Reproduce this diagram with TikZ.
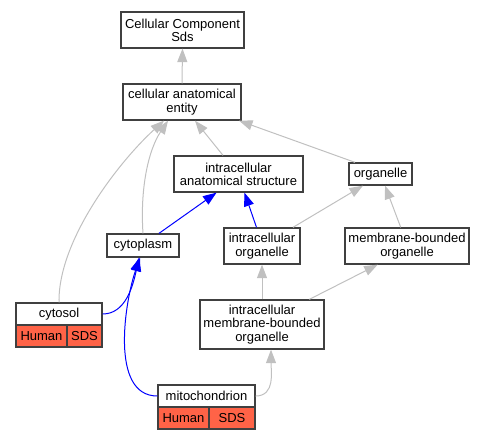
\documentclass[tikz,border=0pt]{standalone}
\usepackage{fontspec}
\setmainfont{Liberation Sans}
\usetikzlibrary{arrows.meta}

\definecolor{boxline}{HTML}{404040}
\definecolor{isagray}{HTML}{C0C0C0}
\definecolor{sdsred}{HTML}{FF6347}

\begin{document}
\begin{tikzpicture}[
    x=1pt, y=-1pt,
    % GLOBAL CFG
    font=\fontsize{13}{13.3}\selectfont,
    >={Triangle[length=13.5pt, width=10pt]},
    % Styles
    term/.style={% For the ontology terms
        rectangle,
        draw=boxline,
        line width=1.3pt,
        fill=white,
        align=center,
        inner sep=0pt,
        },
    ann/.style={% For the annotation cells under a term
        term,
        fill=sdsred,
        minimum height=22pt,
        },
    isa/.style={% Grey arrows
        ->,
        isagray,
        line width=1pt,
        },
    partof/.style={% Blue arrows
        ->,
        blue,
        line width=1pt,
        },
    ]

    \useasboundingbox (0,0) rectangle (484,440);

    % Draw the terms
    \node [term, minimum width=123pt, minimum height=36pt] (cell_comp) at (182.5,30) {Cellular Component\\Sds};
    \node [term, minimum width=118pt, minimum height=36pt] (cell_anat) at (182,102) {cellular anatomical\\entity};
    \node [term, minimum width=129pt, minimum height=36pt] (intra_struct) at (238.5,174) {intracellular\\anatomical structure};
    \node [term, minimum width=63pt, minimum height=22pt] (organelle) at (380.5,174) {organelle};
    \node [term, minimum width=72pt, minimum height=23pt] (cytoplasm) at (143,245.5) {cytoplasm};
    \node [term, minimum width=76pt, minimum height=36pt] (intra_org) at (262,246) {intracellular\\organelle};
    \node [term, minimum width=124pt, minimum height=36pt] (mem_org) at (407,246) {membrane-bounded\\organelle};
    \node [term, minimum width=124pt, minimum height=49pt] (intra_mem_org) at (262,324.5) {intracellular\\membrane-bounded\\organelle};

    % Draw the annotated terms, named as basis cytosol, mito
    \node [term, minimum width=86pt, minimum height=22pt] (cytosol) at (59,314) {cytosol};
    \node [ann, minimum width=51pt] (cytosol_human) at (41.5,336) {Human};
    \node [ann, minimum width=35pt] (cytosol_sds) at (84.5,336) {SDS};
    \node [term, minimum width=97pt, minimum height=22pt] (mito) at (206.5,396) {mitochondrion};
    \node [ann, minimum width=51pt] (mito_human) at (183.5,418) {Human};
    \node [ann, minimum width=46pt] (mito_sds) at (232,418) {SDS};

% Start connecting all.
    % Grey arrows
    \draw [isa] (cell_anat.north) -- (cell_comp.south);
    \draw [isa] ([xshift=-15.5pt]intra_struct.north) -- ([xshift=13pt]cell_anat.south);
    \draw [isa] ([xshift=-25.5pt]organelle.north) -- ([xshift=57pt]cell_anat.south);
    \draw [isa] (cytoplasm.north) .. controls +(-3,-44) and +(-20,30) .. ([xshift=-14pt]cell_anat.south);
    \draw [isa] (cytosol.north) .. controls +(-1,-63) and +(-44,40) .. ([xshift=-18pt]cell_anat.south);
    \draw [isa] ([xshift=31pt]intra_org.north) -- ([xshift=-17.5pt]organelle.south);
    \draw [isa] ([xshift=-6.3pt]mem_org.north) -- ([xshift=4.5pt]organelle.south);
    \draw [isa] (intra_mem_org.north) -- (intra_org.south);
    \draw [isa] ([xshift=47.3pt]intra_mem_org.north) -- ([xshift=-29.3pt]mem_org.south);
    \draw [isa] (mito.east) .. controls +(20,0) and +(0,21) .. ([xshift=9pt]intra_mem_org.south);

    % Blue arrows
    \draw [partof] ([xshift=16pt]cytoplasm.north) -- ([xshift=-22pt]intra_struct.south);
    \draw [partof] ([xshift=-5.5pt]intra_org.north) -- ([xshift=6pt]intra_struct.south);
    \draw [partof] (mito.west) .. controls +(-48,0) and +(-15,43) .. ([xshift=-3pt]cytoplasm.south);
    \draw [partof] (cytosol.east) .. controls +(23,0) and +(-6,28) .. ([xshift=-4pt]cytoplasm.south);

\end{tikzpicture}
\end{document}
